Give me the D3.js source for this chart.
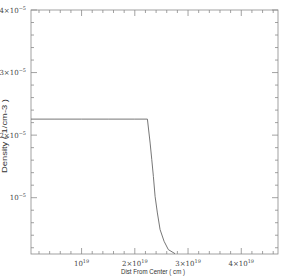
<html>
<head>
  <meta charset="utf-8">
  <title>Density profile</title>
  <style>
    html, body { margin: 0; padding: 0; background: #fff; }
    svg { display: block; }
    .tick-label { font-family: "DejaVu Serif", "Liberation Serif", serif; font-size: 7px; fill: #444; }
    .axis-title { font-family: "Liberation Sans", Arial, sans-serif; font-size: 7.5px; fill: #333; }
  </style>
  <script src="https://d3js.org/d3.v7.min.js"></script>
</head>
<body>
<script>
  // x in units of 1e19 cm, density in units of 1e-5 cm^-3
  var distX = [0, 0.5, 1.0, 1.5, 2.0, 2.237, 2.288, 2.319, 2.349, 2.381, 2.424, 2.475, 2.55, 2.63, 2.756];
  var density = [2.256, 2.256, 2.256, 2.256, 2.256, 2.256, 1.873, 1.607, 1.340, 1.021, 0.756, 0.490, 0.303, 0.170, 0.105];

  var xMajor = [1, 2, 3, 4];
  var xLabels = ["10", "2×10", "3×10", "4×10"];
  var xExp = "19";
  var yMajor = [1, 2, 3, 4];
  var yLabels = ["10", "2×10", "3×10", "4×10"];
  var yExp = "−5";

  var width = 284, height = 280;
  var margin = { left: 31, top: 10, right: 6, bottom: 26 };
  var iw = width - margin.left - margin.right,
      ih = height - margin.top - margin.bottom;

  var svg = d3.select("body").append("svg")
    .attr("width", width)
    .attr("height", height);

  var x = d3.scaleLinear().domain([0.05, 4.69]).range([0, iw]);
  var y = d3.scaleLinear().domain([0.1, 4.0]).range([ih, 0]);

  var g = svg.append("g").attr("transform", "translate(" + margin.left + "," + margin.top + ")");

  g.append("clipPath").attr("id", "clip")
    .append("rect").attr("width", iw).attr("height", ih);

  // minor / major tick values
  var xMinor = d3.range(0.2, 4.7, 0.2).filter(function (v) { return Math.abs(v - Math.round(v)) > 0.01; });
  var yMinor = d3.range(0.2, 4.0, 0.2).filter(function (v) { return Math.abs(v - Math.round(v)) > 0.01; });

  var axisColor = "#8a8a8a";
  var tickG = g.append("g").attr("stroke", axisColor).attr("stroke-width", 0.8);

  function xTicks(vals, len) {
    vals.forEach(function (v) {
      var px = x(v);
      tickG.append("line").attr("x1", px).attr("x2", px).attr("y1", ih).attr("y2", ih - len);
      tickG.append("line").attr("x1", px).attr("x2", px).attr("y1", 0).attr("y2", len);
    });
  }
  function yTicks(vals, len) {
    vals.forEach(function (v) {
      var py = y(v);
      tickG.append("line").attr("x1", 0).attr("x2", len).attr("y1", py).attr("y2", py);
      tickG.append("line").attr("x1", iw).attr("x2", iw - len).attr("y1", py).attr("y2", py);
    });
  }
  xTicks(xMinor, 3);
  xTicks(xMajor, 6);
  yTicks(yMinor, 3);
  yTicks(yMajor, 6);

  g.append("rect")
    .attr("width", iw).attr("height", ih)
    .attr("fill", "none")
    .attr("stroke", axisColor)
    .attr("stroke-width", 0.8);

  // data line
  var line = d3.line()
    .x(function (d, i) { return x(distX[i]); })
    .y(function (d) { return y(d); });

  g.append("path")
    .datum(density)
    .attr("clip-path", "url(#clip)")
    .attr("fill", "none")
    .attr("stroke", "#666")
    .attr("stroke-width", 0.9)
    .attr("d", line);

  // tick labels
  xMajor.forEach(function (v, i) {
    var t = g.append("text").attr("class", "tick-label")
      .attr("x", x(v)).attr("y", ih + 12)
      .attr("text-anchor", "middle");
    t.append("tspan").text(xLabels[i]);
    t.append("tspan").attr("dy", -3).attr("font-size", "5px").text(xExp);
  });
  yMajor.forEach(function (v, i) {
    var t = g.append("text").attr("class", "tick-label")
      .attr("x", -5).attr("y", y(v) + 2.5)
      .attr("text-anchor", "end");
    t.append("tspan").text(yLabels[i]);
    t.append("tspan").attr("dy", -3).attr("font-size", "5px").text(yExp);
  });

  // axis titles
  svg.append("text").attr("class", "axis-title")
    .attr("x", 153).attr("y", height - 6)
    .attr("text-anchor", "middle")
    .attr("textLength", 64)
    .attr("lengthAdjust", "spacingAndGlyphs")
    .text("Dist From Center ( cm )");

  svg.append("text").attr("class", "axis-title")
    .attr("transform", "translate(7,136) rotate(-90)")
    .attr("text-anchor", "middle")
    .attr("textLength", 74)
    .attr("lengthAdjust", "spacingAndGlyphs")
    .text("Density ( 1/cm-3 )");
</script>
</body>
</html>
